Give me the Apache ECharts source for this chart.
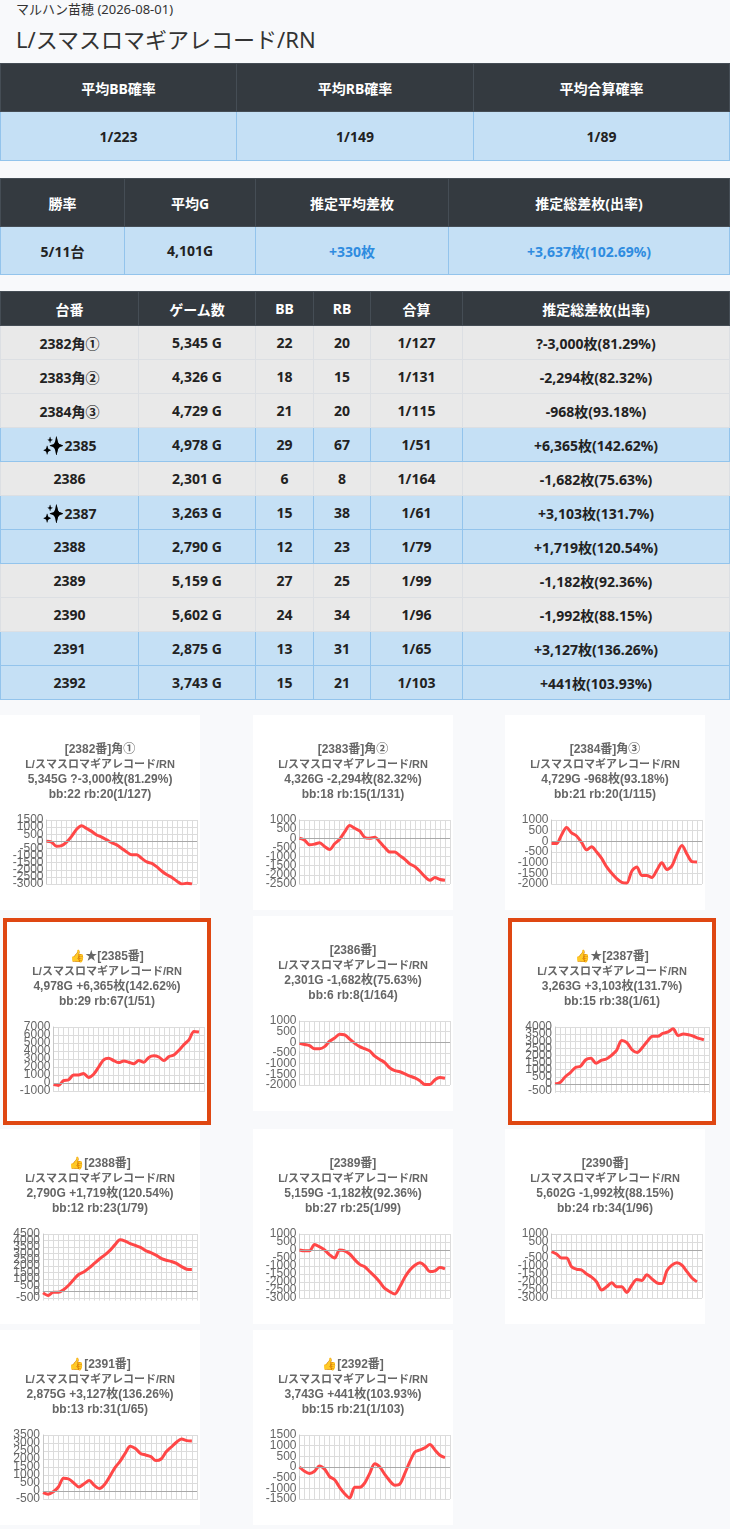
<!DOCTYPE html>
<html>
<head>
<meta charset="utf-8">
<script src="https://cdn.jsdelivr.net/npm/echarts@6/dist/echarts.min.js"></script>
<style>
body{margin:0;width:730px;height:1529px;position:relative;overflow:hidden;background:#f8f9fb;
  font-family:"Noto Sans","Noto Sans CJK JP",sans-serif;color:#333}
.sub{position:absolute;left:16px;top:0;font-size:13px;line-height:18px}
.ttl{position:absolute;left:16px;top:24px;font-size:22px;line-height:30px}
table{position:absolute;left:0;width:730px;border-collapse:collapse;table-layout:fixed}
th,td{text-align:center;padding:0;font-weight:700;font-size:14px}
th{background:#343a40;color:#fff;border:1px solid #454d55}
td{color:#222}
tr.blue td{background:#c5e0f5;border:1px solid #93c4ec}
tr.gray td{background:#e9e9e9;border:1px solid #dcdfe3}
.plus{color:#2f8ce0}
.spark{filter:brightness(0);font-size:18px;vertical-align:-1px}
.card{position:absolute;background:#fff}
.hot{position:absolute;border:4px solid #df4712;background:#fff;box-sizing:border-box;width:208px;height:207px}
</style>
</head>
<body>
<div class="sub">マルハン苗穂 (2026-08-01)</div>
<div class="ttl">L/スマスロマギアレコード/RN</div>
<table id="t1" style="top:63px"></table>
<table id="t2" style="top:178px"></table>
<table id="t3" style="top:291px"></table>
<div id="cards"></div>
<script>
// 集計
const summaryLabels = ['平均BB確率', '平均RB確率', '平均合算確率'];
const summaryValues = ['1/223', '1/149', '1/89'];
const overviewLabels = ['勝率', '平均G', '推定平均差枚', '推定総差枚(出率)'];
const overviewValues = ['5/11台', '4,101G', '+330枚', '+3,637枚(102.69%)'];

// 台別
const tableHeads = ['台番', 'ゲーム数', 'BB', 'RB', '合算', '推定総差枚(出率)'];
const machineNo = ['2382', '2383', '2384', '2385', '2386', '2387', '2388', '2389', '2390', '2391', '2392'];
const machineTag = ['角①', '角②', '角③', '', '', '', '', '', '', '', ''];
const hotFlags = [false, false, false, true, false, true, false, false, false, false, false];
const games = [5345, 4326, 4729, 4978, 2301, 3263, 2790, 5159, 5602, 2875, 3743];
const bbCounts = [22, 18, 21, 29, 6, 15, 12, 27, 24, 13, 15];
const rbCounts = [20, 15, 20, 67, 8, 38, 23, 25, 34, 31, 21];
const combined = ['1/127', '1/131', '1/115', '1/51', '1/164', '1/61', '1/79', '1/99', '1/96', '1/65', '1/103'];
const diffText = ['?-3,000', '-2,294', '-968', '+6,365', '-1,682', '+3,103', '+1,719', '-1,182', '-1,992', '+3,127', '+441'];
const payoutRate = ['81.29%', '82.32%', '93.18%', '142.62%', '75.63%', '131.7%', '120.54%', '92.36%', '88.15%', '136.26%', '103.93%'];

// スランプグラフ
const slump2382 = [0, -50, -350, -300, -50, 350, 850, 1100, 900, 700, 450, 300, 100, -100, -250, -500, -750, -950, -950, -1200, -1450, -1550, -1800, -2100, -2350, -2550, -2800, -3000, -2950, -3000];
const slump2383 = [0, -100, -350, -320, -250, -450, -620, -300, -50, 350, 700, 550, 400, 50, 0, 50, -200, -500, -750, -750, -950, -1150, -1400, -1550, -1800, -2100, -2300, -2150, -2250, -2294];
const slump2384 = [-100, -100, 300, 650, 400, 250, -50, -400, -250, -500, -800, -1200, -1500, -1750, -1920, -1950, -1400, -1200, -1600, -1600, -1700, -1350, -1000, -1320, -1150, -600, -200, -600, -950, -968];
const slump2385 = [-200, -300, 300, 400, 1000, 1000, 1200, 700, 1100, 2000, 2900, 3100, 2800, 2550, 2750, 2600, 2400, 2800, 2600, 3200, 3400, 3250, 2800, 3300, 3500, 4100, 4800, 5400, 6450, 6365];
const slump2386 = [-50, -100, -150, -300, -300, -200, 50, 200, 380, 350, 150, -50, -200, -300, -400, -650, -800, -950, -1200, -1330, -1380, -1480, -1580, -1670, -1800, -1980, -1980, -1750, -1650, -1682];
const slump2387 = [0, 100, 500, 800, 1150, 1250, 1700, 1800, 1450, 1650, 1750, 2000, 2350, 3050, 2900, 2400, 2200, 2550, 3000, 3350, 3350, 3550, 3650, 3870, 3400, 3500, 3450, 3350, 3200, 3103];
const slump2388 = [-100, -300, -50, -50, 150, 500, 950, 1350, 1550, 1850, 2200, 2550, 2850, 3200, 3650, 4050, 3950, 3750, 3600, 3450, 3200, 3050, 2850, 2600, 2450, 2350, 2200, 1950, 1750, 1719];
const slump2389 = [0, -50, -50, 350, 200, 0, -300, -500, 0, -50, -250, -600, -900, -1050, -1350, -1650, -2000, -2400, -2600, -2750, -2300, -1700, -1250, -950, -800, -1000, -1350, -1300, -1100, -1182];
const slump2390 = [-100, -250, -500, -500, -1050, -1200, -1250, -1500, -1700, -2000, -2500, -2300, -2050, -2300, -2300, -2650, -2200, -1850, -1900, -1550, -1800, -2050, -2100, -1300, -950, -800, -950, -1350, -1750, -1992];
const slump2391 = [-100, -200, -50, 250, 800, 750, 500, 250, 450, 650, 350, 150, 400, 900, 1450, 1850, 2350, 2800, 2650, 2350, 2250, 2150, 1900, 2000, 2450, 2750, 3050, 3250, 3150, 3127];
const slump2392 = [0, -200, -300, -200, 50, -100, -450, -600, -950, -1250, -1450, -950, -950, -750, -300, 150, 0, -350, -650, -850, -800, -300, 250, 700, 800, 900, 1050, 800, 550, 441];
const slumpSeries = [slump2382, slump2383, slump2384, slump2385, slump2386, slump2387, slump2388, slump2389, slump2390, slump2391, slump2392];
const axisMin = [-3000, -2500, -2000, -1000, -2000, -500, -500, -3000, -3000, -500, -1500];
const axisMax = [1500, 1000, 1000, 7000, 1000, 4000, 4500, 1000, 1000, 3500, 1500];
const axisStep = [500, 500, 500, 1000, 500, 500, 500, 500, 500, 500, 500];
const xLabels = Array.from({ length: 31 }, (_, i) => String(i));

const fmt = n => n.toLocaleString('en-US');
const isPlus = s => s.charAt(0) === '+';

// 上の表
function headRow(labels, h) {
  return '<tr style="height:' + h + 'px">' + labels.map(l => '<th>' + l + '</th>').join('') + '</tr>';
}
document.getElementById('t1').innerHTML =
  '<colgroup><col style="width:236px"><col style="width:237px"><col></colgroup>' +
  headRow(summaryLabels, 48) +
  '<tr class="blue" style="height:49px">' + summaryValues.map(v => '<td>' + v + '</td>').join('') + '</tr>';
document.getElementById('t2').innerHTML =
  '<colgroup><col style="width:124px"><col style="width:131px"><col style="width:193px"><col></colgroup>' +
  headRow(overviewLabels, 48) +
  '<tr class="blue" style="height:48px">' +
  overviewValues.map(v => '<td' + (isPlus(v) ? ' class="plus"' : '') + '>' + v + '</td>').join('') + '</tr>';

let rows = '<colgroup><col style="width:138px"><col style="width:117px"><col style="width:58px"><col style="width:57px"><col style="width:92px"><col></colgroup>';
rows += headRow(tableHeads, 34);
machineNo.forEach((no, i) => {
  rows += '<tr class="' + (isPlus(diffText[i]) ? 'blue' : 'gray') + '" style="height:34px">' +
    '<td>' + (hotFlags[i] ? '<span class="spark">✨</span>' : '') + no + machineTag[i] + '</td>' +
    '<td>' + fmt(games[i]) + ' G</td>' +
    '<td>' + bbCounts[i] + '</td><td>' + rbCounts[i] + '</td>' +
    '<td>' + combined[i] + '</td>' +
    '<td>' + diffText[i] + '枚(' + payoutRate[i] + ')</td></tr>';
});
document.getElementById('t3').innerHTML = rows;

// グラフ
const cardPos = [[0, 715], [253, 715], [505, 715], [3, 918], [253, 916], [508, 918],
  [0, 1129], [253, 1129], [505, 1129], [0, 1330], [253, 1330]];
const FONT = '"Liberation Sans", Arial, "Noto Sans CJK JP", sans-serif';
const holder = document.getElementById('cards');

// 目盛ラベルが間引かれないよう、3本の軸に分けて描く
function yAxes(min, max, step) {
  const ticks = [];
  for (let v = min; v <= max; v += step) ticks.push(v);
  return [0, 1, 2].map(k => ({
    type: 'value', min: min, max: max, interval: step, position: 'left',
    axisLine: { show: k === 0, lineStyle: { color: '#c8c8c8' } },
    axisTick: { show: false },
    axisLabel: {
      fontSize: 12, color: '#666', margin: 3, fontFamily: FONT,
      hideOverlap: false, showMinLabel: true, showMaxLabel: true,
      customValues: ticks.filter((_, j) => j % 3 === k),
      formatter: v => String(v)
    },
    splitLine: { show: k === 0, lineStyle: { color: '#dcdcdc' } }
  }));
}

slumpSeries.forEach((data, i) => {
  const box = document.createElement('div');
  box.className = hotFlags[i] ? 'hot' : 'card';
  box.style.left = cardPos[i][0] + 'px';
  box.style.top = cardPos[i][1] + 'px';
  if (!hotFlags[i]) { box.style.width = '200px'; box.style.height = '195px'; }
  const el = document.createElement('div');
  el.style.width = '200px';
  el.style.height = '195px';
  box.appendChild(el);
  holder.appendChild(box);

  const head = (isPlus(diffText[i]) ? '👍' : '') + (hotFlags[i] ? '★' : '') + '[' + machineNo[i] + '番]' + machineTag[i];
  const title = [head, '{n|L/スマスロマギアレコード/RN}',
    fmt(games[i]) + 'G ' + diffText[i] + '枚(' + payoutRate[i] + ')',
    'bb:' + bbCounts[i] + ' rb:' + rbCounts[i] + '(' + combined[i] + ')'].join('\n');
  const wide = [axisMin[i], axisMax[i]].some(v => String(v).length >= 5);

  const chart = echarts.init(el);
  chart.setOption({
    animation: false,
    title: {
      text: title, left: 'center', top: 22,
      textStyle: {
        fontSize: 12, fontWeight: 'bold', color: '#666', lineHeight: 15, fontFamily: FONT,
        rich: { n: { fontSize: 11, fontWeight: 'bold', color: '#666', lineHeight: 15, fontFamily: FONT } }
      }
    },
    grid: { left: wide ? 46.5 : 43, right: 3, top: 105, height: 64 },
    xAxis: {
      type: 'category', data: xLabels, boundaryGap: false,
      axisLine: { lineStyle: { color: '#c8c8c8' } },
      axisTick: { interval: 0, length: 9, lineStyle: { color: '#dcdcdc' } },
      axisLabel: { show: false },
      splitLine: { show: true, interval: 0, lineStyle: { color: '#dcdcdc' } }
    },
    yAxis: yAxes(axisMin[i], axisMax[i], axisStep[i]),
    series: [{
      type: 'line', data: data, yAxisIndex: 0, showSymbol: false, smooth: 0.3,
      lineStyle: { color: '#ff4747', width: 3 },
      markLine: {
        silent: true, symbol: 'none', label: { show: false },
        lineStyle: { color: '#a8a8a8', type: 'solid', width: 1 },
        data: [{ yAxis: 0 }]
      }
    }]
  });
});
</script>
</body>
</html>
